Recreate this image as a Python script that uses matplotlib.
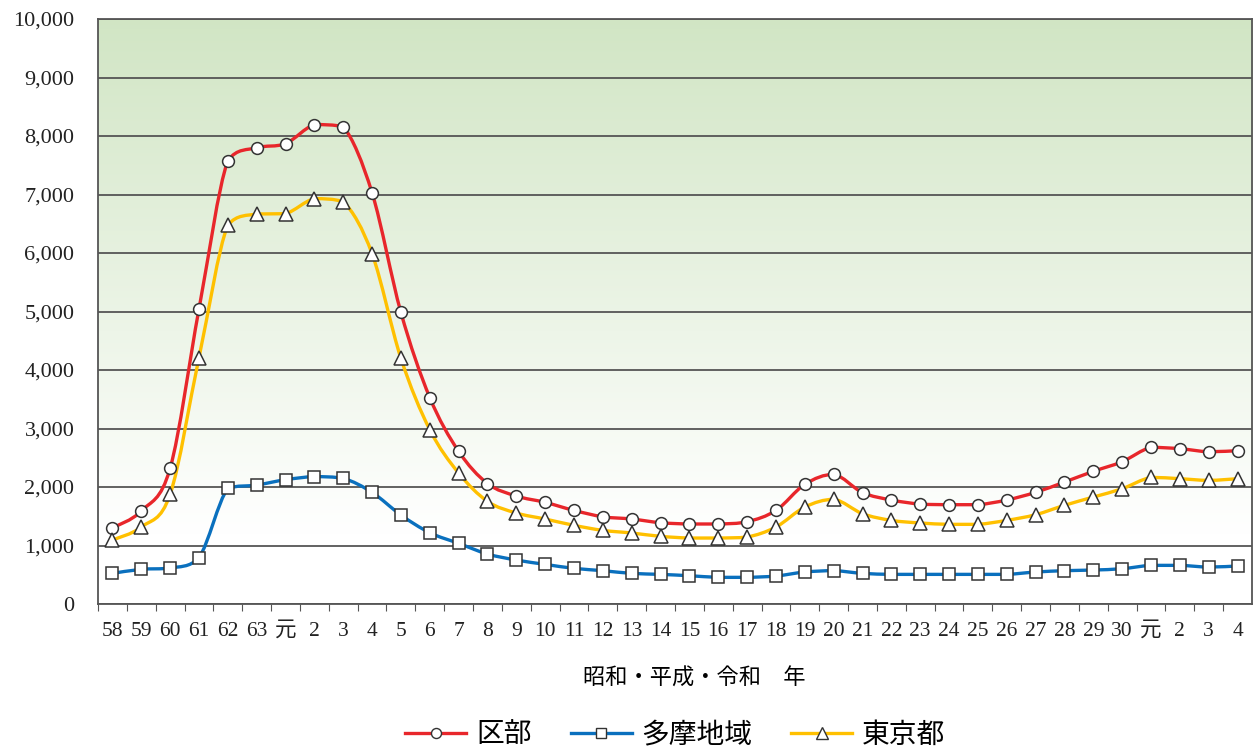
import numpy as np
import matplotlib.pyplot as plt
from matplotlib.path import Path
from matplotlib.patches import PathPatch
from matplotlib.lines import Line2D

plt.rcParams['font.family'] = ['Liberation Serif', 'Noto Sans CJK JP']

# 昭和58年 〜 令和4年
years = ['58', '59', '60', '61', '62', '63', '元'] + [str(y) for y in range(2, 31)] + ['元', '2', '3', '4']

kubu = [1300, 1590, 2320, 5040, 7580, 7800, 7870, 8195, 8160, 7030,
        4985, 3530, 2610, 2060, 1846, 1738, 1600, 1492, 1453, 1390,
        1368, 1368, 1407, 1600, 2046, 2217, 1905, 1778, 1709, 1698,
        1698, 1778, 1909, 2085, 2268, 2433, 2678, 2655, 2603, 2621]

tama = [524, 593, 615, 792, 1977, 2034, 2125, 2177, 2148, 1909,
        1521, 1219, 1037, 855, 752, 678, 610, 570, 524, 507,
        484, 456, 456, 479, 547, 570, 524, 507, 507, 507,
        507, 507, 547, 570, 581, 604, 661, 661, 632, 650]

tokyo = [1094, 1316, 1875, 4210, 6479, 6667, 6672, 6929, 6877, 5988,
         4200, 2980, 2239, 1755, 1556, 1453, 1345, 1259, 1214, 1157,
         1128, 1128, 1145, 1316, 1658, 1790, 1544, 1430, 1385, 1362,
         1362, 1430, 1527, 1687, 1829, 1971, 2165, 2142, 2114, 2142]

series = [
    ('区部', kubu, '#E8262B', 'o', 8.5),
    ('多摩地域', tama, '#0A70BE', 's', 8),
    ('東京都', tokyo, '#FFC000', '^', 10),
]


def smooth_path(x, y):
    # smoothed line as cubic Bezier segments, control points kept inside each segment's range
    pts = np.column_stack([x, y]).astype(float)
    p = np.vstack([pts[0], pts, pts[-1]])
    verts = [pts[0]]
    codes = [Path.MOVETO]
    for i in range(len(pts) - 1):
        p0, p1, p2, p3 = p[i], p[i + 1], p[i + 2], p[i + 3]
        c1 = p1 + (p2 - p0) / 6
        c2 = p2 - (p3 - p1) / 6
        lo, hi = min(p1[1], p2[1]), max(p1[1], p2[1])
        c1[1] = np.clip(c1[1], lo, hi)
        c2[1] = np.clip(c2[1], lo, hi)
        verts += [c1, c2, p2]
        codes += [Path.CURVE4] * 3
    return Path(verts, codes)


fig = plt.figure(figsize=(12.53, 7.51), dpi=100)
ax = fig.add_axes([0.0782, 0.1957, 0.921, 0.779])

# green gradient background
grad = np.linspace(0, 1, 256)
grad = np.clip((grad - 0.12) / 0.88, 0, 1)
top = np.array([0.82, 0.90, 0.77])
img = np.ones((256, 1, 3)) - grad[:, None, None] * (1 - top)
ax.imshow(img, extent=[0, 1, 0, 1], transform=ax.transAxes, origin='lower',
          aspect='auto', zorder=0)

x = np.arange(len(years))
ax.set_xlim(-0.5, len(years) - 0.5)
ax.set_ylim(0, 10000)

for label, vals, color, marker, ms in series:
    patch = PathPatch(smooth_path(x, vals), facecolor='none', edgecolor=color,
                      lw=2.4, zorder=3, capstyle='round', joinstyle='round')
    ax.add_patch(patch)
    ax.plot(x, vals, linestyle='none', marker=marker, markersize=ms,
            markerfacecolor='white', markeredgecolor='#333333',
            markeredgewidth=1.1, zorder=4)

ax.set_yticks(np.arange(0, 10001, 1000))
ax.set_yticklabels([f'{v:,}' for v in range(0, 10001, 1000)], fontsize=16)
ax.grid(axis='y', color='#555555', linewidth=1.3, zorder=1)
ax.set_axisbelow(False)
ax.tick_params(axis='y', length=0, pad=17, colors='#222222')

ax.set_xticks(x - 0.5, minor=False)
ax.set_xticklabels([])
ax.set_xticks(x, minor=True)
ax.set_xticklabels(years, minor=True, fontsize=15.5)
ax.tick_params(axis='x', which='major', length=5, direction='out', color='#555555')
ax.tick_params(axis='x', which='minor', length=0, pad=13, colors='#222222')

for s in ax.spines.values():
    s.set_color('#555555')
    s.set_linewidth(1.3)

ax.set_xlabel('昭和・平成・令和　年', fontsize=16, family=['Noto Sans CJK JP'])
ax.xaxis.set_label_coords(0.517, -0.107)

handles = [Line2D([], [], color=c, lw=2.4, marker=m, markersize=ms * 0.85,
                  markerfacecolor='white', markeredgecolor='#333333',
                  markeredgewidth=1.0)
           for _, _, c, m, ms in series]
fig.legend(handles, [s[0] for s in series], loc='center',
           bbox_to_anchor=(0.539, 0.022), ncol=3, frameon=False,
           prop={'family': 'Noto Sans CJK JP', 'size': 20},
           handlelength=2.2, columnspacing=1.4, handletextpad=0.35)

fig.savefig('out.png', dpi=100)
